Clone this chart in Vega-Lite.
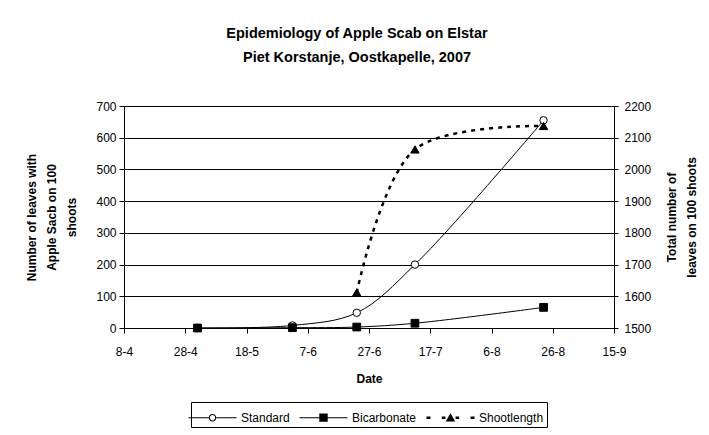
{
  "$schema": "https://vega.github.io/schema/vega-lite/v6.json",
  "width": 490,
  "height": 222,
  "autosize": "none",
  "padding": {"left": 124, "top": 106, "right": 95, "bottom": 107},
  "background": "white",
  "title": {
    "text": ["Epidemiology of Apple Scab on Elstar", "Piet Korstanje, Oostkapelle, 2007"],
    "font": "Liberation Sans",
    "fontSize": 14.5,
    "fontWeight": "bold",
    "lineHeight": 24,
    "color": "black",
    "anchor": "middle",
    "frame": "group",
    "dx": -12,
    "offset": 35
  },
  "config": {
    "font": "Liberation Sans",
    "view": {"stroke": null},
    "legend": {"layout": {"bottom": {"anchor": "middle"}}}
  },
  "datasets": {
    "scab": [
      {"date": "2007-05-02T00:00:00", "series": "Standard", "value": 0},
      {"date": "2007-06-02T00:00:00", "series": "Standard", "value": 8},
      {"date": "2007-06-23T00:00:00", "series": "Standard", "value": 48},
      {"date": "2007-07-12T00:00:00", "series": "Standard", "value": 200},
      {"date": "2007-08-23T00:00:00", "series": "Standard", "value": 655},
      {"date": "2007-05-02T00:00:00", "series": "Bicarbonate", "value": 0},
      {"date": "2007-06-02T00:00:00", "series": "Bicarbonate", "value": 1},
      {"date": "2007-06-23T00:00:00", "series": "Bicarbonate", "value": 3},
      {"date": "2007-07-12T00:00:00", "series": "Bicarbonate", "value": 15},
      {"date": "2007-08-23T00:00:00", "series": "Bicarbonate", "value": 65}
    ],
    "shoot": [
      {"date": "2007-06-23T00:00:00", "series": "Shootlength", "value": 1612},
      {"date": "2007-07-12T00:00:00", "series": "Shootlength", "value": 2063},
      {"date": "2007-08-23T00:00:00", "series": "Shootlength", "value": 2137}
    ]
  },
  "layer": [
    {
      "data": {"name": "scab"},
      "encoding": {
        "x": {
          "field": "date",
          "type": "temporal",
          "scale": {"domain": [{"year": 2007, "month": 4, "date": 8}, {"year": 2007, "month": 9, "date": 15}]},
          "axis": {
            "values": [
              {"year": 2007, "month": 4, "date": 8},
              {"year": 2007, "month": 4, "date": 28},
              {"year": 2007, "month": 5, "date": 18},
              {"year": 2007, "month": 6, "date": 7},
              {"year": 2007, "month": 6, "date": 27},
              {"year": 2007, "month": 7, "date": 17},
              {"year": 2007, "month": 8, "date": 6},
              {"year": 2007, "month": 8, "date": 26},
              {"year": 2007, "month": 9, "date": 15}
            ],
            "format": "%-d-%-m",
            "labelAngle": 0,
            "labelFontSize": 12,
            "labelColor": "black",
            "labelPadding": 13,
            "labelFlush": false,
            "labelOverlap": false,
            "tickSize": 5,
            "tickColor": "black",
            "domainColor": "black",
            "grid": false,
            "title": "Date",
            "titleFontSize": 12,
            "titleFontWeight": "bold",
            "titleColor": "black",
            "titlePadding": 16
          }
        },
        "y": {
          "field": "value",
          "type": "quantitative",
          "scale": {"domain": [0, 700], "nice": false},
          "axis": {
            "values": [0, 100, 200, 300, 400, 500, 600, 700],
            "format": "d",
            "labelFontSize": 12,
            "labelColor": "black",
            "labelPadding": 3,
            "tickSize": 5,
            "tickColor": "black",
            "domainColor": "black",
            "grid": true,
            "gridColor": "black",
            "gridOpacity": 1,
            "gridWidth": 1,
            "title": ["Number of leaves with", "Apple Sacb on 100", "shoots"],
            "titleFontSize": 12,
            "titleFontWeight": "bold",
            "titleColor": "black",
            "titleLineHeight": 20,
            "titlePadding": 17
          }
        }
      },
      "layer": [
        {
          "mark": {"type": "line", "interpolate": "catmull-rom", "color": "black", "strokeWidth": 1},
          "encoding": {"detail": {"field": "series"}}
        },
        {
          "transform": [{"filter": "datum.series === 'Standard'"}],
          "mark": {"type": "point", "shape": "circle", "filled": true, "fill": "white", "stroke": "black", "strokeWidth": 1, "opacity": 1, "size": 55},
          "encoding": {}
        },
        {
          "transform": [{"filter": "datum.series === 'Bicarbonate'"}],
          "mark": {"type": "point", "shape": "square", "filled": true, "fill": "black", "stroke": "black", "strokeWidth": 1, "opacity": 1, "size": 60},
          "encoding": {}
        },
        {
          "mark": {"type": "point", "filled": true, "stroke": "black", "strokeWidth": 1, "opacity": 0, "size": 576},
          "encoding": {
            "shape": {
              "field": "series",
              "type": "nominal",
              "scale": {
                "domain": ["Standard", "Bicarbonate", "Shootlength"],
                "range": [
                  "M-2,-0.042H-0.31V0.042H-2ZM0.31,-0.042H2V0.042H0.31ZM0.31,0A0.31,0.31,0,1,1,-0.31,0A0.31,0.31,0,1,1,0.31,0ZM0.22,0A0.22,0.22,0,1,0,-0.22,0A0.22,0.22,0,1,0,0.22,0Z",
                  "M-2,-0.042H2V0.042H-2ZM-0.35,-0.35H0.35V0.35H-0.35Z",
                  "M-2,-0.1H-1.67V0.1H-2ZM-0.72,-0.1H-0.42V0.1H-0.72ZM0.42,-0.1H0.72V0.1H0.42ZM1.67,-0.1H2V0.1H1.67ZM0,-0.38L0.4,0.32L-0.4,0.32Z"
                ]
              },
              "legend": {
                "title": null,
                "orient": "bottom",
                "direction": "horizontal",
                "offset": 18,
                "padding": 3,
                "strokeColor": "black",
                "fillColor": "white",
                "labelFontSize": 12,
                "labelColor": "black",
                "labelOffset": 16,
                "symbolOffset": 6,
                "columnPadding": 7,
                "symbolSize": 576,
                "symbolOpacity": 1,
                "symbolStrokeColor": "black",
                "symbolStrokeWidth": 1
              }
            },
            "fill": {
              "field": "series",
              "type": "nominal",
              "scale": {"domain": ["Standard", "Bicarbonate", "Shootlength"], "range": ["black", "black", "black"]},
              "legend": {
                "title": null,
                "orient": "bottom",
                "direction": "horizontal",
                "offset": 18,
                "padding": 3,
                "strokeColor": "black",
                "fillColor": "white",
                "labelFontSize": 12,
                "labelColor": "black",
                "labelOffset": 16,
                "symbolOffset": 6,
                "columnPadding": 7,
                "symbolSize": 576,
                "symbolOpacity": 1,
                "symbolStrokeColor": "black",
                "symbolStrokeWidth": 1
              }
            }
          }
        }
      ]
    },
    {
      "data": {"name": "shoot"},
      "encoding": {
        "x": {"field": "date", "type": "temporal"},
        "y": {
          "field": "value",
          "type": "quantitative",
          "scale": {"domain": [1500, 2200], "nice": false},
          "axis": {
            "orient": "right",
            "values": [1500, 1600, 1700, 1800, 1900, 2000, 2100, 2200],
            "format": "d",
            "labelFontSize": 12,
            "labelColor": "black",
            "labelPadding": 6,
            "tickSize": 4,
            "tickColor": "black",
            "domainColor": "black",
            "grid": false,
            "title": ["Total number of", "leaves on 100 shoots"],
            "titleAngle": 270,
            "titleBaseline": "top",
            "titleFontSize": 12,
            "titleFontWeight": "bold",
            "titleColor": "black",
            "titleLineHeight": 20,
            "titlePadding": -4
          }
        }
      },
      "layer": [
        {
          "mark": {"type": "line", "interpolate": "catmull-rom", "color": "black", "strokeWidth": 2.5, "strokeDash": [4, 5]},
          "encoding": {}
        },
        {
          "mark": {"type": "point", "shape": "triangle-up", "filled": true, "fill": "black", "stroke": "black", "strokeWidth": 1, "opacity": 1, "size": 70},
          "encoding": {}
        }
      ]
    }
  ],
  "resolve": {"scale": {"y": "independent"}}
}
